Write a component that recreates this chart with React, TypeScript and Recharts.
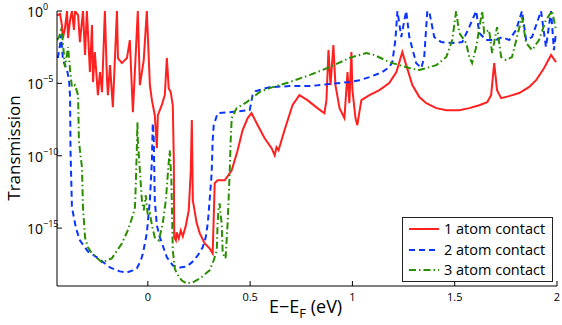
import { LineChart, Line, XAxis, YAxis } from 'recharts';

// traces: [E - E_F (eV), log10 T]
const oneAtom: [number, number][] = [
  [-0.444, -0.3], [-0.429, -0.2], [-0.42, -0.97], [-0.415, -1.87], [-0.405, -1.18], [-0.395, 0],
  [-0.39, -1.87], [-0.38, -0.62], [-0.371, 0], [-0.361, -1.31], [-0.356, 0], [-0.341, -0.28],
  [-0.332, -2.15], [-0.317, 0], [-0.307, -3.04], [-0.298, 0], [-0.283, -4.22], [-0.273, -0.97],
  [-0.268, -4.91], [-0.259, -2.84], [-0.244, -5.81], [-0.234, -4.22], [-0.224, -5.61], [-0.21, 0],
  [-0.2, -4.64], [-0.195, -5.81], [-0.185, -3.74], [-0.171, -6.64], [-0.151, 0], [-0.146, -3.25],
  [-0.127, -3.6], [-0.102, -3.25], [-0.088, -2.01], [-0.073, -6.99], [-0.049, 0], [-0.039, -5.12],
  [-0.029, -4.22], [-0.02, -3.39], [-0.005, 0], [0.01, -5.12], [0.02, -6.16], [0.034, -7.2],
  [0.044, -9.48], [0.049, -7.2], [0.068, -6.51], [0.083, -5.81], [0.093, -3.25], [0.102, -5.33],
  [0.112, -5.61], [0.122, -6.51], [0.127, -10.31], [0.129, -15.64], [0.137, -15.85], [0.141, -15.29],
  [0.151, -15.71], [0.161, -15.16], [0.171, -15.57], [0.185, -14.88], [0.2, -13.77], [0.21, -11.0],
  [0.215, -7.54], [0.22, -13.08], [0.239, -14.67], [0.254, -15.36], [0.278, -16.06], [0.302, -16.4],
  [0.317, -16.75], [0.327, -11.9], [0.341, -11.7], [0.376, -11.7], [0.41, -11.0], [0.439, -9.62],
  [0.463, -8.24], [0.488, -7.4], [0.507, -7.06], [0.537, -7.89], [0.571, -8.79], [0.605, -9.48],
  [0.62, -9.97], [0.629, -9.41], [0.639, -9.62], [0.668, -8.24], [0.707, -6.51], [0.741, -5.81],
  [0.78, -6.16], [0.829, -6.71], [0.863, -7.06], [0.873, -6.16], [0.883, -2.7], [0.893, -5.12],
  [0.907, -2.35], [0.917, -5.12], [0.937, -6.71], [0.961, -7.4], [0.976, -4.22], [0.985, -6.37],
  [0.995, -2.84], [1.0, -5.47], [1.015, -7.4], [1.024, -7.89], [1.034, -6.99], [1.044, -6.16],
  [1.083, -5.81], [1.132, -5.47], [1.18, -4.98], [1.215, -4.22], [1.244, -2.84], [1.263, -3.74],
  [1.293, -5.12], [1.327, -5.95], [1.361, -6.37], [1.41, -6.71], [1.459, -6.85], [1.522, -6.85],
  [1.571, -6.71], [1.62, -6.51], [1.659, -6.3], [1.678, -5.81], [1.693, -3.6], [1.707, -5.47],
  [1.727, -6.02], [1.766, -5.88], [1.815, -5.67], [1.863, -5.26], [1.898, -4.78], [1.937, -3.94],
  [1.971, -3.04], [1.995, -3.53],
];

const twoAtom: [number, number][] = [
  [-0.444, -3.18], [-0.439, -3.18], [-0.429, -2.35], [-0.424, -1.66], [-0.415, -3.39], [-0.395, -4.08],
  [-0.385, -4.78], [-0.38, -5.95], [-0.378, -9.62], [-0.371, -13.56], [-0.351, -15.02], [-0.332, -15.85],
  [-0.293, -16.61], [-0.249, -17.02], [-0.185, -17.72], [-0.137, -17.99], [-0.102, -18.06], [-0.073, -17.92],
  [-0.054, -17.79], [-0.034, -17.23], [-0.024, -16.75], [-0.005, -15.36], [0.01, -13.08], [0.02, -10.31],
  [0.024, -7.75], [0.029, -8.93], [0.034, -13.08], [0.044, -14.81], [0.059, -15.64], [0.093, -17.02],
  [0.122, -17.58], [0.156, -17.72], [0.19, -17.65], [0.215, -17.37], [0.244, -16.89], [0.268, -16.33],
  [0.283, -15.64], [0.293, -14.67], [0.302, -13.08], [0.312, -11.21], [0.317, -8.93], [0.322, -7.89],
  [0.341, -7.06], [0.4, -6.99], [0.498, -6.85], [0.512, -5.81], [0.527, -5.54], [0.595, -5.26],
  [0.693, -5.19], [0.79, -5.19], [0.888, -5.05], [0.985, -4.91], [1.034, -4.78], [1.083, -4.57],
  [1.146, -4.22], [1.18, -3.88], [1.195, -3.53], [1.21, -2.01], [1.22, 0], [1.239, -1.8],
  [1.254, -0.62], [1.263, 0], [1.278, -1.8], [1.312, -3.6], [1.337, -3.94], [1.351, -3.18],
  [1.366, 0], [1.376, -0.07], [1.4, -1.8], [1.434, -2.15], [1.488, -2.21], [1.537, -2.15],
  [1.571, -1.11], [1.605, 0], [1.62, -1.52], [1.654, -2.01], [1.702, -2.01], [1.732, -1.8],
  [1.766, -2.01], [1.8, -1.31], [1.829, 0], [1.849, -2.01], [1.878, -1.8], [1.922, 0],
  [1.946, -2.49], [1.971, 0], [1.985, -2.7], [1.995, -1.52],
];

const threeAtom: [number, number][] = [
  [-0.444, -2.01], [-0.434, -1.8], [-0.424, -1.31], [-0.42, -1.52], [-0.415, -2.21], [-0.405, -3.88],
  [-0.39, -2.49], [-0.38, -4.08], [-0.371, -5.26], [-0.356, -5.12], [-0.341, -5.81], [-0.337, -8.93],
  [-0.332, -9.62], [-0.322, -10.8], [-0.317, -13.56], [-0.307, -15.64], [-0.293, -16.33], [-0.273, -16.75],
  [-0.224, -17.37], [-0.176, -17.09], [-0.127, -16.06], [-0.098, -15.16], [-0.073, -14.12], [-0.063, -13.56],
  [-0.059, -12.04], [-0.054, -9.62], [-0.051, -7.68], [-0.049, -8.93], [-0.039, -11.0], [-0.029, -13.08],
  [-0.02, -13.77], [-0.01, -12.73], [0, -14.12], [0.01, -13.98], [0.02, -14.81], [0.034, -15.64],
  [0.054, -15.85], [0.073, -14.67], [0.088, -13.08], [0.098, -11.21], [0.107, -9.62], [0.115, -11.7],
  [0.122, -16.54], [0.132, -17.79], [0.141, -18.13], [0.166, -18.62], [0.19, -18.82], [0.22, -18.75],
  [0.254, -18.48], [0.278, -18.2], [0.302, -17.92], [0.322, -17.23], [0.337, -16.54], [0.341, -14.67],
  [0.346, -13.63], [0.351, -13.29], [0.356, -14.12], [0.361, -14.67], [0.366, -16.75], [0.38, -17.09],
  [0.39, -14.67], [0.4, -11.21], [0.405, -8.93], [0.41, -7.4], [0.434, -6.71], [0.483, -6.3],
  [0.546, -5.61], [0.595, -5.33], [0.693, -4.91], [0.79, -4.43], [0.888, -3.88], [0.985, -3.25],
  [1.034, -3.04], [1.068, -2.91], [1.107, -3.04], [1.18, -3.53], [1.278, -3.94], [1.327, -4.08],
  [1.41, -3.74], [1.459, -3.18], [1.488, -2.01], [1.507, 0], [1.522, -1.52], [1.556, -2.21],
  [1.571, -3.18], [1.585, -3.6], [1.605, -2.49], [1.634, 0], [1.644, -1.52], [1.668, -1.31],
  [1.683, -2.91], [1.707, -1.11], [1.727, -3.18], [1.751, -3.39], [1.78, -3.18], [1.829, -0.42],
  [1.849, -2.21], [1.878, -2.7], [1.912, -2.01], [1.946, -0.62], [1.976, 0], [1.995, -1.31],
];

const xTicks = [0, 0.5, 1, 1.5, 2];
const yTicks = [1, 1e-5, 1e-10, 1e-15];

const toPoints = (pts: [number, number][]) => pts.map(([e, lg]) => ({ e, t: Math.pow(10, lg) }));

const series = [
  { name: '1 atom contact', data: toPoints(oneAtom), color: '#ff2020', dash: undefined },
  { name: '2 atom contact', data: toPoints(twoAtom), color: '#0a34ff', dash: '6 4' },
  { name: '3 atom contact', data: toPoints(threeAtom), color: '#2a8f00', dash: '7 3 1.5 3' },
];

const font = '"Open Sans", "DejaVu Sans", sans-serif';

const BottomTick = ({ x, y, payload }: any) => (
  <g>
    <line x1={x} x2={x} y1={y} y2={y - 5} stroke="#000" />
    <text x={x} y={y + 15} textAnchor="middle" fontSize={11} fontFamily={font} fill="#000">{payload.value}</text>
  </g>
);

const TopTick = ({ x, y }: any) => <line x1={x} x2={x} y1={y} y2={y + 5} stroke="#444" />;

const LeftTick = ({ x, y, payload }: any) => {
  const p = Math.round(Math.log10(payload.value));
  const exp = p < 0 ? `\u2212${-p}` : `${p}`;
  return (
    <g>
      <line x1={x} x2={x + 5} y1={y} y2={y} stroke="#000" />
      <text x={27} y={y + 6} fontSize={14} fontFamily={font} fill="#000">
        10<tspan dy={-7} fontSize={9}>{exp}</tspan>
      </text>
    </g>
  );
};

const RightTick = ({ x, y }: any) => <line x1={x} x2={x - 5} y1={y} y2={y} stroke="#000" />;

// matlab-style legend box, drawn over the lower right of the axes
const LegendBox = () => (
  <div style={{ position: 'absolute', left: 402, top: 217, width: 151, height: 65, border: '1px solid #222', background: '#fff', fontFamily: font, fontSize: 14.5, padding: '1px 0 0 5px', boxSizing: 'border-box' }}>
    {series.map((s) => (
      <div key={s.name} style={{ display: 'flex', alignItems: 'center', height: 20.5 }}>
        <svg width={32} height={6} style={{ marginRight: 4, flex: 'none' }}>
          <line x1={1} x2={31} y1={3} y2={3} stroke={s.color} strokeWidth={2} strokeDasharray={s.dash} />
        </svg>
        <span style={{ color: '#000', whiteSpace: 'nowrap', lineHeight: '18px' }}>{s.name}</span>
      </div>
    ))}
  </div>
);

export default function App() {
  return (
    <div style={{ position: 'absolute', left: 0, top: 0, width: 562, height: 325, background: '#fff' }}>
      <LineChart width={562} height={325} margin={{ top: 11, right: 5, bottom: 0, left: 0 }}>
        <XAxis dataKey="e" type="number" domain={[-0.444, 2]} ticks={xTicks} allowDataOverflow
          height={39} tickSize={0} tickMargin={0} tick={<BottomTick />} stroke="#000" />
        <XAxis xAxisId="top" orientation="top" type="number" domain={[-0.444, 2]} ticks={xTicks}
          height={0} tickSize={0} tickMargin={0} tick={<TopTick />} stroke="#555" />
        <YAxis dataKey="t" scale="log" type="number" domain={[1e-19, 1]} ticks={yTicks} allowDataOverflow
          width={57} tickSize={0} tickMargin={0} tick={<LeftTick />} stroke="#000" />
        <YAxis yAxisId="right" orientation="right" scale="log" type="number" domain={[1e-19, 1]} ticks={yTicks}
          width={0} tickSize={0} tickMargin={0} tick={<RightTick />} stroke="#333" />
        {series.map((s) => (
          <Line key={s.name} data={s.data} dataKey="t" name={s.name} type="linear" stroke={s.color}
            strokeWidth={2} strokeDasharray={s.dash} dot={false} isAnimationActive={false} />
        ))}
      </LineChart>
      <LegendBox />
      <div style={{ position: 'absolute', left: 13, top: 148, transform: 'translate(-50%, -50%) rotate(-90deg)', fontFamily: font, fontSize: 17, whiteSpace: 'nowrap' }}>
        Transmission
      </div>
      <div style={{ position: 'absolute', left: 269, top: 294, fontFamily: font, fontSize: 18, whiteSpace: 'nowrap' }}>
        E{'\u2212'}E<sub style={{ fontSize: 13 }}>F</sub> (eV)
      </div>
    </div>
  );
}
